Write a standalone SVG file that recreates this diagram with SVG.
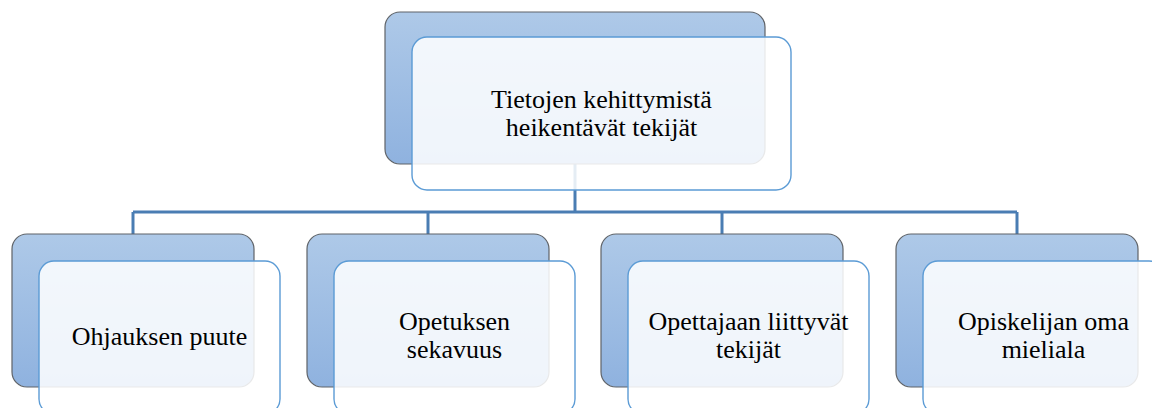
<svg xmlns="http://www.w3.org/2000/svg" width="1152" height="408" viewBox="0 0 1152 408">
  <defs>
    <linearGradient id="backFill" x1="0" y1="0" x2="0" y2="1">
      <stop offset="0" stop-color="#aec9e8"/>
      <stop offset="1" stop-color="#8fb2df"/>
    </linearGradient>
    <style>
      .back { fill: url(#backFill); stroke: #5f6368; stroke-width: 1.2; }
      .front { fill: #ffffff; fill-opacity: 0.86; stroke: #5b9bd5; stroke-width: 1.4; }
      .wire { fill: none; stroke: #4a7db3; stroke-width: 3; }
      text { font-family: 'Liberation Serif', 'Times New Roman', 'DejaVu Serif', serif; font-size: 26px; fill: #000; text-anchor: middle; }
    </style>
  </defs>

  <rect width="1152" height="408" fill="#ffffff"/>

  <!-- connectors -->
  <g id="connectors" class="wire">
    <path d="M575,164 V212"/>
    <path d="M133,212 H1017"/>
    <path d="M133,212 V234"/>
    <path d="M428,212 V234"/>
    <path d="M722,212 V234"/>
    <path d="M1017,212 V234"/>
  </g>

  <!-- root -->
  <g id="root">
    <rect class="back" x="385" y="12" width="380" height="152" rx="15"/>
    <rect class="front" x="412" y="37" width="379" height="153" rx="15"/>
    <text x="601.5" y="108">Tietojen kehittymistä</text>
    <text x="601.5" y="136">heikentävät tekijät</text>
  </g>

  <g id="ohjaus">
    <rect class="back" x="12" y="234" width="242" height="153" rx="15"/>
    <rect class="front" x="39" y="261" width="241" height="153" rx="15"/>
    <text x="159.5" y="345">Ohjauksen puute</text>
  </g>

  <g id="opetus">
    <rect class="back" x="307" y="234" width="242" height="153" rx="15"/>
    <rect class="front" x="334" y="261" width="241" height="153" rx="15"/>
    <text x="454.5" y="330">Opetuksen</text>
    <text x="454.5" y="358">sekavuus</text>
  </g>

  <g id="opettaja">
    <rect class="back" x="601" y="234" width="242" height="153" rx="15"/>
    <rect class="front" x="628" y="261" width="241" height="153" rx="15"/>
    <text x="748.5" y="330">Opettajaan liittyvät</text>
    <text x="748.5" y="358">tekijät</text>
  </g>

  <g id="opiskelija">
    <rect class="back" x="896" y="234" width="242" height="153" rx="15"/>
    <rect class="front" x="923" y="261" width="241" height="153" rx="15"/>
    <text x="1043.5" y="330">Opiskelijan oma</text>
    <text x="1043.5" y="358">mieliala</text>
  </g>
</svg>
